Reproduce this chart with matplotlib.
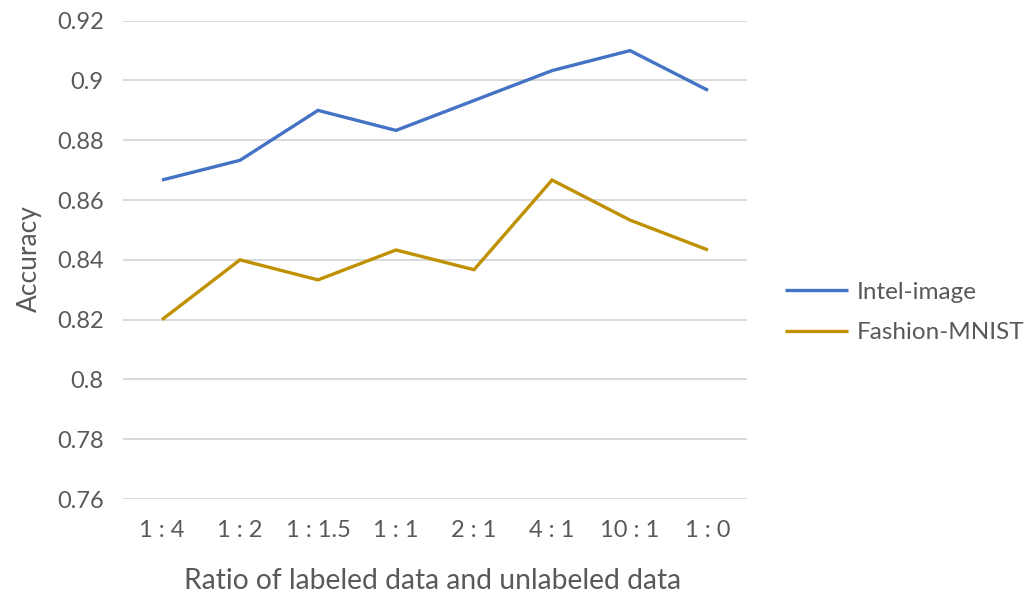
import matplotlib
matplotlib.use("Agg")
import matplotlib.pyplot as plt

# Accuracy for each labeled:unlabeled ratio
ratios = ["1 : 4", "1 : 2", "1 : 1.5", "1 : 1", "2 : 1", "4 : 1", "10 : 1", "1 : 0"]
intel_image = [0.8667, 0.8733, 0.8900, 0.8833, 0.8933, 0.9033, 0.9100, 0.8967]
fashion_mnist = [0.8200, 0.8400, 0.8333, 0.8433, 0.8367, 0.8667, 0.8533, 0.8433]
y_ticks = [0.76, 0.78, 0.80, 0.82, 0.84, 0.86, 0.88, 0.90, 0.92]
y_tick_labels = ["0.76", "0.78", "0.8", "0.82", "0.84", "0.86", "0.88", "0.9", "0.92"]

plt.rcParams["font.family"] = ["Lato", "DejaVu Sans"]
text_color = "#595959"
grid_color = "#d9d9d9"

W, H = 1035, 593
fig = plt.figure(figsize=(W / 100, H / 100), dpi=100)
ax = fig.add_axes([123 / W, 1 - 499 / H, 624 / W, (499 - 20.7) / H])

x = list(range(len(ratios)))
ax.plot(x, intel_image, color="#4472C4", lw=2.4, label="Intel-image",
        solid_capstyle="butt", solid_joinstyle="miter", zorder=3)
ax.plot(x, fashion_mnist, color="#BF9000", lw=2.4, label="Fashion-MNIST",
        solid_capstyle="butt", solid_joinstyle="miter", zorder=3)

ax.set_xlim(-0.5, len(ratios) - 0.5)
ax.set_ylim(0.76, 0.92)
ax.set_yticks(y_ticks)
ax.set_yticklabels(y_tick_labels)
ax.set_xticks(x)
ax.set_xticklabels(ratios)

for s in ax.spines.values():
    s.set_visible(False)
ax.grid(axis="y", color=grid_color, lw=1.4, zorder=0)
ax.set_axisbelow(True)
ax.tick_params(axis="both", length=0, labelsize=17, colors=text_color)
ax.tick_params(axis="y", pad=14)
ax.tick_params(axis="x", pad=15)

fig.text(29 / W, 1 - 259 / H, "Accuracy", rotation=90, ha="center", va="center",
         fontsize=19, color=text_color)
fig.text(433 / W, 1 - 589 / H, "Ratio of labeled data and unlabeled data",
         ha="center", va="baseline", fontsize=20.3, color=text_color)

leg = ax.legend(loc="center left", bbox_to_anchor=(763 / W, 1 - 312.5 / H),
                bbox_transform=fig.transFigure, frameon=False, fontsize=17.5,
                handlelength=2.6, handletextpad=0.37, labelspacing=0.8)
for t in leg.get_texts():
    t.set_color(text_color)

fig.savefig("out.png", dpi=100)
